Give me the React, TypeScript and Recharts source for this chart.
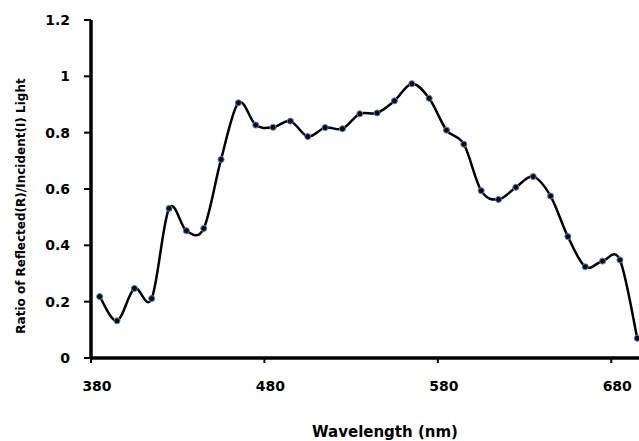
import React from 'react';
import { LineChart, Line, XAxis, YAxis } from 'recharts';

const wavelengths = [385, 395, 405, 415, 425, 435, 445, 455, 465, 475, 485, 495, 505, 515, 525, 535, 545, 555, 565, 575, 585, 595, 605, 615, 625, 635, 645, 655, 665, 675, 685, 695];
const ratios = [0.218, 0.132, 0.247, 0.211, 0.531, 0.452, 0.46, 0.705, 0.906, 0.827, 0.819, 0.841, 0.786, 0.818, 0.814, 0.867, 0.87, 0.913, 0.974, 0.922, 0.809, 0.759, 0.594, 0.563, 0.606, 0.644, 0.575, 0.431, 0.324, 0.344, 0.348, 0.07];

const xTicks = [380, 480, 580, 680];
const yTicks = [0, 0.2, 0.4, 0.6, 0.8, 1, 1.2];

const data = wavelengths.map((w, i) => ({ w, r: ratios[i] }));

const FONT = '"DejaVu Sans", sans-serif';

// Excel-style smoothed line (Catmull-Rom through every point)
const excelSmooth = (context: any) => {
  let xs: number[] = [];
  let ys: number[] = [];
  return {
    areaStart() {},
    areaEnd() {},
    lineStart() {
      xs = [];
      ys = [];
    },
    point(x: number, y: number) {
      xs.push(+x);
      ys.push(+y);
    },
    lineEnd() {
      const n = xs.length;
      if (!n) return;
      context.moveTo(xs[0], ys[0]);
      for (let i = 0; i < n - 1; i++) {
        const p = Math.max(i - 1, 0);
        const q = Math.min(i + 2, n - 1);
        context.bezierCurveTo(
          xs[i] + (xs[i + 1] - xs[p]) / 6,
          ys[i] + (ys[i + 1] - ys[p]) / 6,
          xs[i + 1] - (xs[q] - xs[i]) / 6,
          ys[i + 1] - (ys[q] - ys[i]) / 6,
          xs[i + 1],
          ys[i + 1]
        );
      }
    },
  };
};

export default function App() {
  return (
    <div style={{ position: 'absolute', left: 0, top: 0, width: 639, height: 441, background: '#fff' }}>
      <LineChart width={639} height={441} data={data} margin={{ top: 20, right: 0, bottom: 0, left: 0 }}>
        <XAxis
          dataKey="w"
          type="number"
          domain={[380, 696]}
          ticks={xTicks}
          allowDataOverflow
          height={83}
          tickSize={5}
          tickMargin={18}
          axisLine={{ stroke: '#000', strokeWidth: 3.5 }}
          tickLine={{ stroke: '#000', strokeWidth: 2 }}
          tick={{ fill: '#000', fontSize: 14, fontWeight: 'bold', fontFamily: FONT, dx: 6 }}
          label={{
            content: () => (
              <text x={385} y={437} textAnchor="middle" fill="#000" fontSize={15} fontWeight="bold" fontFamily={FONT}>
                Wavelength (nm)
              </text>
            ),
          }}
        />
        <YAxis
          type="number"
          domain={[0, 1.2]}
          ticks={yTicks}
          width={91}
          tickSize={7}
          tickMargin={14}
          axisLine={{ stroke: '#000', strokeWidth: 3.5 }}
          tickLine={{ stroke: '#000', strokeWidth: 2 }}
          tick={{ fill: '#000', fontSize: 14, fontWeight: 'bold', fontFamily: FONT }}
          label={{
            content: () => (
              <text
                transform="translate(25,206) rotate(-90)"
                textAnchor="middle"
                fill="#000"
                fontSize={12}
                fontWeight="bold"
                fontFamily={FONT}
              >
                Ratio of Reflected(R)/Incident(I) Light
              </text>
            ),
          }}
        />
        <Line
          dataKey="r"
          type={excelSmooth as any}
          stroke="#000"
          strokeWidth={2.5}
          dot={{ r: 3, fill: '#0a0a14', stroke: '#4f81bd', strokeWidth: 1 }}
          isAnimationActive={false}
        />
      </LineChart>
    </div>
  );
}
